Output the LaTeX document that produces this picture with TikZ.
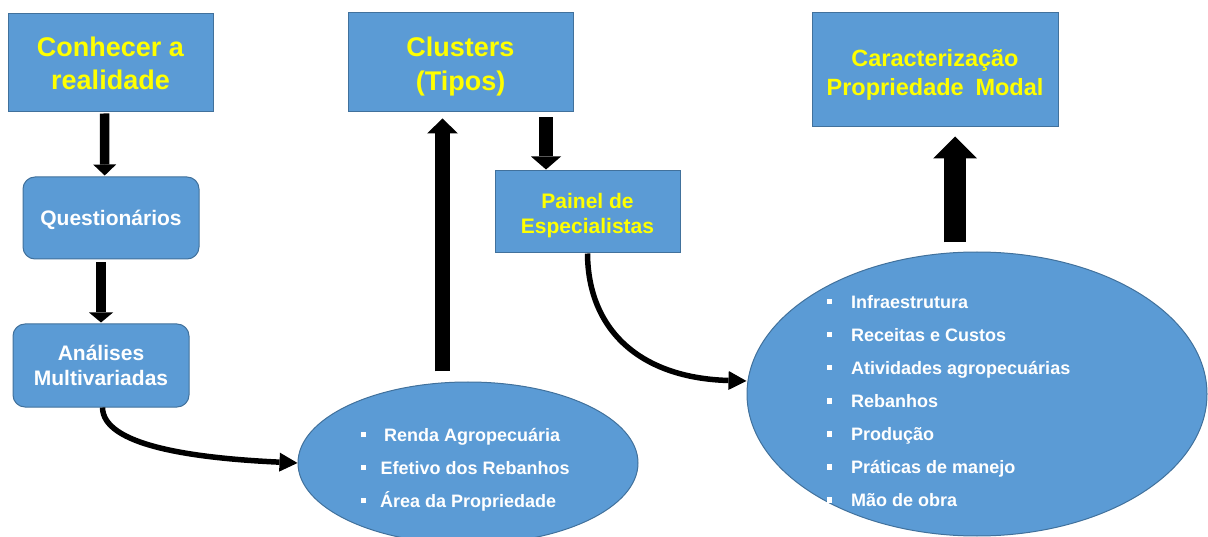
\documentclass[tikz,border=0pt]{standalone}
\usepackage{fontspec}
\setmainfont{Liberation Sans}
\usetikzlibrary{arrows.meta,shapes.geometric}
\definecolor{boxblue}{RGB}{91,155,213}
\definecolor{edgeblue}{RGB}{65,113,156}
\definecolor{txtyellow}{RGB}{255,255,0}
\begin{document}
\begin{tikzpicture}[x=1pt,y=-1pt,
  box/.style={draw=edgeblue, line width=1pt, fill=boxblue, align=center, inner sep=0pt},
  ybox/.style={box, text=txtyellow},
  wbox/.style={box, text=white, rounded corners=12pt},
  ell/.style={ellipse, draw=edgeblue, line width=1pt, fill=boxblue, inner sep=0pt},
  item/.style={anchor=base west, text=white, inner sep=0pt, font=\bfseries\fontsize{18}{20}\selectfont},
  bul/.style={fill=white},
  blockarrow/.style n args={3}{draw=black, line width=#1, -{Triangle[length=#2, width=#3, line width=0pt]}},
  curvearrow/.style={draw=black, line width=5.5pt, -{Triangle[length=18pt, width=19pt, line width=0pt]}}
]
\useasboundingbox (0,0) rectangle (1208,537);

% boxes
\node[ybox, minimum width=205pt, minimum height=98pt, font=\bfseries\fontsize{27}{33}\selectfont]
  (conhecer) at (110.5,63) {Conhecer a\\realidade};
\node[wbox, minimum width=176pt, minimum height=82pt, font=\bfseries\fontsize{21}{25}\selectfont]
  (quest) at (111,218) {\rule{0pt}{20pt}Questionários};
\node[wbox, minimum width=176pt, minimum height=83pt, font=\bfseries\fontsize{21}{25}\selectfont]
  (analises) at (101,365.5) {Análises\\Multivariadas};
\node[ybox, minimum width=225pt, minimum height=99pt, font=\bfseries\fontsize{27}{34}\selectfont]
  (clusters) at (460.5,62.5) {\rule{0pt}{27pt}Clusters\\(Tipos)};
\node[ybox, minimum width=185pt, minimum height=82pt, font=\bfseries\fontsize{21}{25}\selectfont]
  (painel) at (587.5,212) {\rule{0pt}{22.5pt}Painel de\\Especialistas};
\node[ybox, minimum width=246pt, minimum height=114pt, font=\bfseries\fontsize{23.5}{29}\selectfont]
  (caract) at (935,70) {\rule{0pt}{27pt}Caracterização\\Propriedade\hspace{0.5em}Modal};

% ellipses
\node[ell, minimum width=340pt, minimum height=162pt] (ell1) at (468,463) {};
\node[ell, minimum width=460pt, minimum height=284pt] (ell2) at (977,394) {};

% ellipse 1 items
\foreach \t/\yy/\xx in {Renda Agropecuária/441.5/384, Efetivo dos Rebanhos/474.5/380.5, Área da Propriedade/507.5/380}{
  \fill[bul] (361,\yy-9.2) rectangle (366,\yy-4.2);
  \node[item] at (\xx,\yy) {\t};
}
% ellipse 2 items
\foreach \t [count=\i from 0] in {Infraestrutura, Receitas e Custos, Atividades agropecuárias, Rebanhos, Produção, Práticas de manejo, Mão de obra}{
  \pgfmathsetmacro{\yy}{308.5+33*\i}
  \fill[bul] (826.5,\yy-9.5) rectangle (832,\yy-4);
  \node[item] at (851,\yy) {\t};
}

% block arrows
\draw[blockarrow={9.5pt}{11pt}{23pt}] ([xshift=-6pt,yshift=-1pt]conhecer.south) -- ([xshift=-6.3pt,yshift=1pt]quest.north);
\draw[blockarrow={10pt}{10pt}{24pt}] ([xshift=-10pt,yshift=-3pt]quest.south) -- ([yshift=1pt]analises.north);
\draw[blockarrow={15pt}{15pt}{31pt}] ([xshift=-25.5pt,yshift=10pt]ell1.north) -- ([xshift=-18pt,yshift=-6pt]clusters.south);
\draw[blockarrow={14pt}{13pt}{30pt}] ([xshift=85.5pt,yshift=-5pt]clusters.south) -- ([xshift=-41.5pt,yshift=1pt]painel.north);
\draw[blockarrow={22pt}{22pt}{44pt}] ([xshift=-22pt,yshift=9pt]ell2.north) -- ([xshift=20pt,yshift=-9pt]caract.south);

% curved arrows
\draw[curvearrow] ([xshift=1.5pt]analises.south) .. controls (103,445) and (190,458) .. (ell1.west);
\draw[curvearrow] (painel.south) .. controls (588,330) and (640,378) .. ([yshift=13pt]ell2.west);
\end{tikzpicture}
\end{document}
